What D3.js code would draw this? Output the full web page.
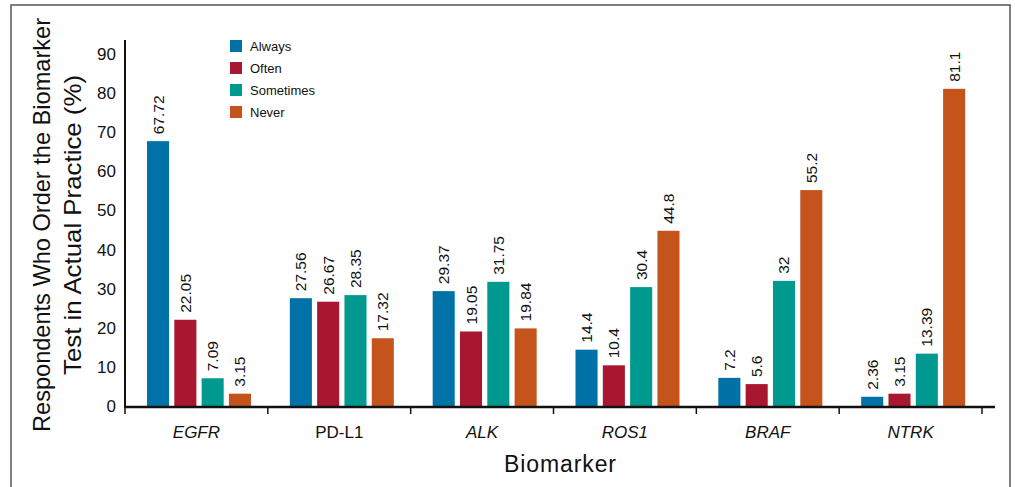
<!DOCTYPE html>
<html lang="en">
<head>
<meta charset="utf-8">
<title>Biomarker ordering</title>
<script src="https://cdn.jsdelivr.net/npm/d3@7"></script>
<style>
  body { margin: 0; background: #fff; }
  text { font-family: "Liberation Sans", Arial, sans-serif; fill: #111; }
</style>
</head>
<body>
<div id="chart"></div>
<script>
var biomarkers = ["EGFR", "PD-L1", "ALK", "ROS1", "BRAF", "NTRK"];
var italicNames = ["EGFR", "ALK", "ROS1", "BRAF", "NTRK"];
var seriesNames = ["Always", "Often", "Sometimes", "Never"];
var always    = [67.72, 27.56, 29.37, 14.4, 7.2, 2.36];
var often     = [22.05, 26.67, 19.05, 10.4, 5.6, 3.15];
var sometimes = [7.09, 28.35, 31.75, 30.4, 32, 13.39];
var never     = [3.15, 17.32, 19.84, 44.8, 55.2, 81.1];
var yTicks = [0, 10, 20, 30, 40, 50, 60, 70, 80, 90];
var colors = ["#0072a8", "#a8162f", "#00998f", "#c4531c"];

var seriesValues = [always, often, sometimes, never];
var rows = [];
biomarkers.forEach(function(b, i) {
    seriesNames.forEach(function(s, j) {
        rows.push({ cat: b, series: s, value: seriesValues[j][i], k: j });
    });
});

var w = 1015, h = 487;
var svg = d3.select("#chart").append("svg")
    .attr("width", w).attr("height", h);

// outer frame
svg.append("path")
    .attr("d", "M11,487 V5 H1010 V487")
    .attr("fill", "none").attr("stroke", "#555").attr("stroke-width", 1.5);

var x = d3.scaleBand().domain(biomarkers).range([125, 982]);
var xInner = d3.scaleBand().domain(seriesNames)
    .range([22, 22 + 26 * 4]).paddingInner(5 / 26);
var y = d3.scaleLinear().domain([0, 90]).range([406, 54]);

svg.selectAll("rect.bar")
    .data(rows)
    .enter()
    .append("rect")
    .attr("class", "bar")
    .attr("x", function(d) { return x(d.cat) + xInner(d.series); })
    .attr("y", function(d) { return y(d.value); })
    .attr("width", xInner.bandwidth())
    .attr("height", function(d) { return y(0) - y(d.value); })
    .attr("fill", function(d) { return colors[d.k]; });

svg.selectAll("text.val")
    .data(rows)
    .enter()
    .append("text")
    .attr("class", "val")
    .attr("transform", function(d) {
        var cx = x(d.cat) + xInner(d.series) + xInner.bandwidth() / 2 + 5.5;
        return "translate(" + cx + "," + (y(d.value) - 7) + ") rotate(-90)";
    })
    .attr("font-size", 15.5)
    .text(function(d) { return d.value; });

// x axis
var xAxis = svg.append("g")
    .attr("transform", "translate(0,407)")
    .call(d3.axisBottom(x).tickSize(0).tickPadding(19));
xAxis.select(".domain").attr("d", "M125,0 H995").attr("stroke", "#111").attr("stroke-width", 2.5);
xAxis.selectAll(".tick text")
    .attr("font-size", 17)
    .attr("font-style", function(d) { return italicNames.indexOf(d) >= 0 ? "italic" : "normal"; })
    .attr("fill", "#111");
svg.selectAll("line.xt")
    .data(d3.range(biomarkers.length + 1))
    .enter()
    .append("line")
    .attr("class", "xt")
    .attr("x1", function(i) { return i < biomarkers.length ? x(biomarkers[i]) : x.range()[1]; })
    .attr("x2", function(i) { return i < biomarkers.length ? x(biomarkers[i]) : x.range()[1]; })
    .attr("y1", 407).attr("y2", 414)
    .attr("stroke", "#111").attr("stroke-width", 1.5);

// y axis
var yAxis = svg.append("g")
    .attr("transform", "translate(125,0)")
    .call(d3.axisLeft(y).tickValues(yTicks).tickSize(0).tickPadding(9));
yAxis.select(".domain").attr("d", "M0,40 V408").attr("stroke", "#111").attr("stroke-width", 2);
yAxis.selectAll(".tick text").attr("font-size", 17).attr("fill", "#111");

// axis titles
svg.append("text")
    .attr("x", 560).attr("y", 472)
    .attr("text-anchor", "middle")
    .attr("font-size", 23)
    .attr("textLength", 112)
    .text("Biomarker");

var yTitle = ["Respondents Who Order the Biomarker", "Test in Actual Practice (%)"];
svg.selectAll("text.ytitle")
    .data(yTitle)
    .enter()
    .append("text")
    .attr("class", "ytitle")
    .attr("transform", function(d, i) { return "translate(" + (50 + i * 31) + ",225) rotate(-90)"; })
    .attr("text-anchor", "middle")
    .attr("font-size", 24)
    .attr("textLength", function(d, i) { return i === 0 ? 414 : 300; })
    .attr("lengthAdjust", "spacingAndGlyphs")
    .text(function(d) { return d; });

// legend
var legend = svg.selectAll("g.leg")
    .data(seriesNames)
    .enter()
    .append("g")
    .attr("class", "leg")
    .attr("transform", function(d, i) { return "translate(230," + (40 + i * 22) + ")"; });
legend.append("rect")
    .attr("width", 12).attr("height", 12)
    .attr("fill", function(d, i) { return colors[i]; });
legend.append("text")
    .attr("x", 20).attr("y", 11)
    .attr("font-size", 13)
    .text(function(d) { return d; });
</script>
</body>
</html>
